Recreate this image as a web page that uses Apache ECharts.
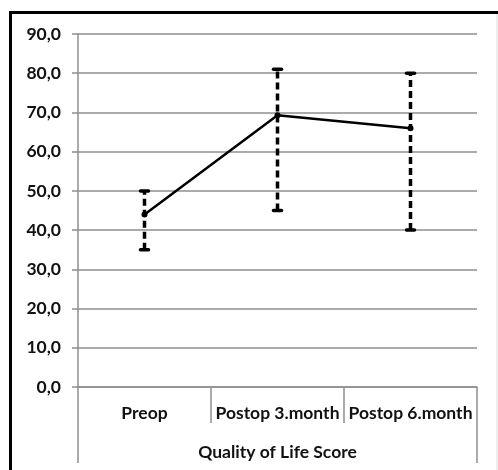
<!DOCTYPE html>
<html>
<head>
<meta charset="utf-8">
<script src="https://cdn.jsdelivr.net/npm/echarts@6/dist/echarts.min.js"></script>
<style>
  html, body { margin: 0; padding: 0; background: #fff; }
  #chart { width: 498px; height: 470px; }
</style>
</head>
<body>
<div id="chart"></div>
<script>
  // values
  const categories = ['Preop', 'Postop 3.month', 'Postop 6.month']
  const groupLabel = ['Quality of Life Score']
  const meanScore = [44, 69.3, 66]
  const lowScore = [35, 45, 40]
  const highScore = [50, 81, 80]

  const font = 'Lato'
  const gray = '#8f8f8f'

  let errData = categories.map((c, i) => [i, lowScore[i], highScore[i]])

  let chart = echarts.init(document.getElementById('chart'))
  let option = {
    animation: false,
    textStyle: {fontFamily: font},
    grid: {left: 78, right: 21, top: 34, bottom: 83, containLabel: false},
    graphic: [
      {type: 'rect', shape: {x: 10.5, y: 12.5, width: 540, height: 520},
        style: {fill: 'none', stroke: '#000', lineWidth: 3}, silent: true},
      {type: 'line', shape: {x1: 497, y1: 14, x2: 497, y2: 470},
        style: {stroke: '#ddd', lineWidth: 1}, silent: true}
    ],
    xAxis: [{
      type: 'category',
      data: categories,
      position: 'bottom',
      axisLine: {show: true, lineStyle: {color: gray, width: 1.5}},
      axisTick: {show: true, length: 36, lineStyle: {color: gray, width: 1.5}},
      axisLabel: {color: '#111', fontSize: 17.5, fontWeight: 'bold', margin: 17, interval: 0}
    }, {
      type: 'category',
      data: groupLabel,
      position: 'bottom',
      axisLine: {show: false},
      axisTick: {show: true, length: 76, lineStyle: {color: gray, width: 1.5}},
      axisLabel: {color: '#111', fontSize: 17.5, fontWeight: 'bold', margin: 56}
    }],
    yAxis: {
      type: 'value',
      min: 0,
      max: 90,
      interval: 10,
      axisLine: {show: true, lineStyle: {color: gray, width: 1.5}},
      axisTick: {show: true, length: 6, lineStyle: {color: gray, width: 1.5}},
      splitLine: {lineStyle: {color: gray, width: 1.5}},
      axisLabel: {
        color: '#111', fontSize: 17.5, fontWeight: 'bold', margin: 17,
        formatter: v => v.toFixed(1).replace('.', ',')
      }
    },
    series: [{
      type: 'custom',
      xAxisIndex: 0,
      data: errData,
      z: 3,
      renderItem: (params, api) => {
        let lo = api.coord([api.value(0), api.value(1)])
        let hi = api.coord([api.value(0), api.value(2)])
        let cap = y => ({
          type: 'line',
          shape: {x1: lo[0] - 4, y1: y, x2: lo[0] + 4, y2: y},
          style: {stroke: '#000', lineWidth: 3.5, lineCap: 'round'}
        })
        return {
          type: 'group',
          children: [
            {type: 'line', shape: {x1: lo[0], y1: lo[1], x2: hi[0], y2: hi[1]},
              style: {stroke: '#000', lineWidth: 3.5, lineDash: [7, 4]}},
            cap(lo[1]),
            cap(hi[1])
          ]
        }
      }
    }, {
      type: 'line',
      xAxisIndex: 0,
      data: meanScore,
      z: 4,
      symbol: 'circle',
      symbolSize: 6,
      itemStyle: {color: '#000'},
      lineStyle: {color: '#000', width: 2.5}
    }]
  }
  chart.setOption(option)
</script>
</body>
</html>
